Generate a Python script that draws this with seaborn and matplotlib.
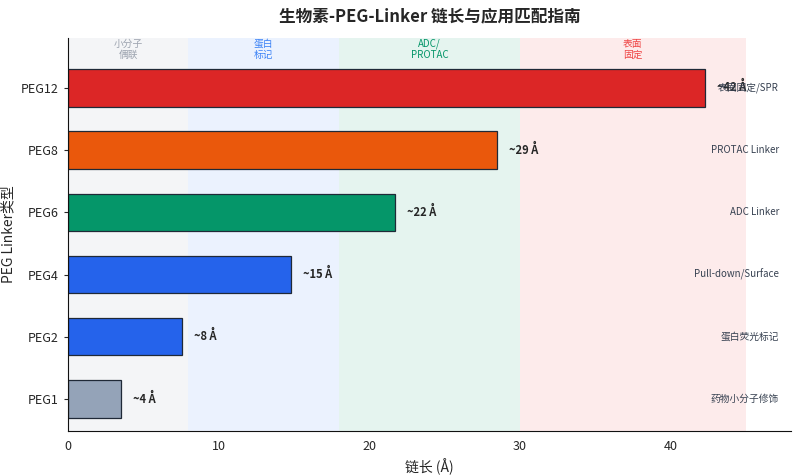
import matplotlib
matplotlib.use("Agg")
import matplotlib.pyplot as plt
import seaborn as sns
import pandas as pd

# 数据
peg_types = ["PEG1", "PEG2", "PEG4", "PEG6", "PEG8", "PEG12"]
lengths = [3.5, 7.6, 14.8, 21.7, 28.5, 42.3]
length_labels = ["~4 Å", "~8 Å", "~15 Å", "~22 Å", "~29 Å", "~42 Å"]
applications = ["药物小分子修饰", "蛋白荧光标记", "Pull-down/Surface", "ADC Linker", "PROTAC Linker", "表面固定/SPR"]
bar_colors = ["#94a3b8", "#2563eb", "#2563eb", "#059669", "#ea580c", "#dc2626"]

band_edges = [(0, 8), (8, 18), (18, 30), (30, 45)]
band_names = ["小分子\n偶联", "蛋白\n标记", "ADC/\nPROTAC", "表面\n固定"]
band_fill = ["#94a3b8", "#3b82f6", "#059669", "#ef4444"]
band_text = ["#9ca3af", "#3b82f6", "#059669", "#ef4444"]

sns.set_style("white")
plt.rcParams['font.family'] = ['Noto Sans CJK SC', 'DejaVu Sans']

fig, ax = plt.subplots(figsize=(7.99, 4.76), dpi=100)

for (a, b), c, name, tc in zip(band_edges, band_fill, band_names, band_text):
    ax.axvspan(a, b, color=c, alpha=0.1, lw=0, zorder=0)
    ax.text((a + b) / 2, 5.62, name, ha="center", va="center", fontsize=7, color=tc, linespacing=1.1)

df = pd.DataFrame({"type": peg_types, "len": lengths})
y = list(range(len(peg_types)))
ax.barh(y, df["len"], height=0.6, color=bar_colors, edgecolor="#1f2937", linewidth=0.9, zorder=2)

for i, (v, lab, app) in enumerate(zip(lengths, length_labels, applications)):
    ax.text(v + 0.8, i, lab, va="center", ha="left", fontsize=8, fontweight="bold", zorder=3)
    ax.text(47.2, i, app, va="center", ha="right", fontsize=7, color="#374151", zorder=3)

ax.set_yticks(y)
ax.set_yticklabels(peg_types, fontsize=9)
ax.set_xlim(0, 48)
ax.set_ylim(-0.51, 5.8)
ax.set_xticks([0, 10, 20, 30, 40])
ax.tick_params(axis="x", labelsize=9, length=3)
ax.tick_params(axis="y", length=3, left=True)
ax.set_xlabel("链长 (Å)", fontsize=10)
ax.set_ylabel("PEG Linker类型", fontsize=10)
ax.set_title("生物素-PEG-Linker 链长与应用匹配指南", fontsize=12, fontweight="bold", pad=12)
sns.despine(ax=ax)
for s in ["left", "bottom"]:
    ax.spines[s].set_color("#111111")

fig.subplots_adjust(left=0.085, right=0.99, top=0.92, bottom=0.095)
fig.savefig("out.png", dpi=100)
